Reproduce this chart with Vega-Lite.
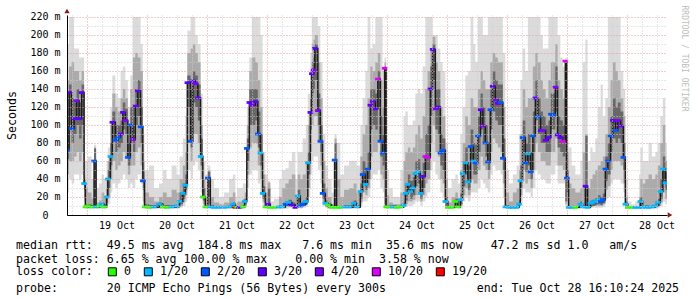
{
  "$schema": "https://vega.github.io/schema/vega-lite/v6.json",
  "width": 600,
  "height": 200,
  "autosize": {"type": "none"},
  "padding": {"left": 67, "top": 15, "right": 30, "bottom": 82},
  "background": "white",
  "config": {"view": {"stroke": null}, "font": "DejaVu Sans Mono"},
  "title": {
    "text": [
      "median rtt:\u00a0\u00a049.5 ms avg\u00a0\u00a0184.8 ms max\u00a0\u00a0\u00a07.6 ms min\u00a0\u00a035.6 ms now\u00a0\u00a0\u00a0\u00a047.2 ms sd 1.0\u00a0\u00a0\u00a0am/s",
      "packet loss: 6.65 % avg 100.00 % max\u00a0\u00a0\u00a0\u00a00.00 % min\u00a0\u00a03.58 % now"
    ],
    "subtitle": "probe:\u00a0\u00a0\u00a0\u00a0\u00a0\u00a0\u00a020 ICMP Echo Pings (56 Bytes) every 300s\u00a0\u00a0\u00a0\u00a0\u00a0\u00a0\u00a0\u00a0\u00a0\u00a0\u00a0\u00a0\u00a0end: Tue Oct 28 16:10:24 2025",
    "orient": "bottom",
    "anchor": "start",
    "frame": "group",
    "font": "DejaVu Sans Mono",
    "fontSize": 11.6,
    "fontWeight": "normal",
    "color": "black",
    "lineHeight": 14.3,
    "subtitleFont": "DejaVu Sans Mono",
    "subtitleFontSize": 11.6,
    "subtitleFontWeight": "normal",
    "subtitleColor": "black",
    "subtitleLineHeight": 14.3,
    "subtitlePadding": 17,
    "offset": -38,
    "dx": -51,
    "align": "left",
    "baseline": "top"
  },
  "datasets": {
    "ping": [
      {"t":"2025-10-18T16:10Z","med":72,"loss":"2/20","lo1":25,"hi1":190,"lo2":45,"hi2":150,"lo3":62,"hi3":100},
      {"t":"2025-10-18T17:00Z","med":136,"loss":"3/20","lo1":40,"hi1":220,"lo2":60,"hi2":165,"lo3":100,"hi3":145},
      {"t":"2025-10-18T18:00Z","med":96,"loss":"2/20","lo1":35,"hi1":220,"lo2":60,"hi2":170,"lo3":80,"hi3":130},
      {"t":"2025-10-18T19:00Z","med":107,"loss":"3/20","lo1":45,"hi1":185,"lo2":65,"hi2":160,"lo3":90,"hi3":125},
      {"t":"2025-10-18T20:00Z","med":127,"loss":"4/20","lo1":45,"hi1":185,"lo2":70,"hi2":160,"lo3":100,"hi3":140},
      {"t":"2025-10-18T21:00Z","med":107,"loss":"3/20","lo1":40,"hi1":175,"lo2":60,"hi2":150,"lo3":85,"hi3":125},
      {"t":"2025-10-18T22:00Z","med":136,"loss":"3/20","lo1":45,"hi1":175,"lo2":70,"hi2":160,"lo3":100,"hi3":145},
      {"t":"2025-10-18T23:00Z","med":35,"loss":"1/20","lo1":15,"hi1":60,"lo2":20,"hi2":45,"lo3":28,"hi3":40},
      {"t":"2025-10-18T23:30Z","med":9,"loss":"0","lo1":7,"hi1":60,"lo2":8,"hi2":30,"lo3":8,"hi3":12},
      {"t":"2025-10-19T00:30Z","med":10,"loss":"0","lo1":7,"hi1":65,"lo2":8,"hi2":25,"lo3":8,"hi3":12},
      {"t":"2025-10-19T02:00Z","med":9,"loss":"0","lo1":7,"hi1":40,"lo2":8,"hi2":18,"lo3":8,"hi3":11},
      {"t":"2025-10-19T03:00Z","med":60,"loss":"2/20","lo1":8,"hi1":78,"lo2":10,"hi2":75,"lo3":10,"hi3":74},
      {"t":"2025-10-19T03:48Z","med":9,"loss":"1/20","lo1":7,"hi1":30,"lo2":8,"hi2":14,"lo3":8,"hi3":10},
      {"t":"2025-10-19T05:00Z","med":10,"loss":"0","lo1":7,"hi1":35,"lo2":8,"hi2":16,"lo3":8,"hi3":12},
      {"t":"2025-10-19T06:00Z","med":12,"loss":"1/20","lo1":7,"hi1":45,"lo2":8,"hi2":25,"lo3":9,"hi3":14},
      {"t":"2025-10-19T07:00Z","med":9,"loss":"0","lo1":7,"hi1":40,"lo2":8,"hi2":20,"lo3":8,"hi3":12},
      {"t":"2025-10-19T08:00Z","med":20,"loss":"1/20","lo1":8,"hi1":60,"lo2":10,"hi2":40,"lo3":14,"hi3":30},
      {"t":"2025-10-19T08:30Z","med":40,"loss":"1/20","lo1":12,"hi1":75,"lo2":20,"hi2":60,"lo3":30,"hi3":50},
      {"t":"2025-10-19T09:30Z","med":65,"loss":"1/20","lo1":25,"hi1":120,"lo2":40,"hi2":100,"lo3":55,"hi3":80},
      {"t":"2025-10-19T10:18Z","med":103,"loss":"3/20","lo1":35,"hi1":155,"lo2":60,"hi2":135,"lo3":85,"hi3":115},
      {"t":"2025-10-19T11:30Z","med":83,"loss":"2/20","lo1":30,"hi1":135,"lo2":50,"hi2":120,"lo3":70,"hi3":100},
      {"t":"2025-10-19T12:30Z","med":86,"loss":"2/20","lo1":35,"hi1":130,"lo2":55,"hi2":115,"lo3":75,"hi3":100},
      {"t":"2025-10-19T13:36Z","med":90,"loss":"3/20","lo1":40,"hi1":160,"lo2":60,"hi2":130,"lo3":80,"hi3":105},
      {"t":"2025-10-19T14:30Z","med":114,"loss":"3/20","lo1":45,"hi1":165,"lo2":70,"hi2":140,"lo3":95,"hi3":125},
      {"t":"2025-10-19T15:30Z","med":105,"loss":"4/20","lo1":40,"hi1":150,"lo2":65,"hi2":130,"lo3":90,"hi3":118},
      {"t":"2025-10-19T16:30Z","med":64,"loss":"2/20","lo1":30,"hi1":120,"lo2":45,"hi2":100,"lo3":55,"hi3":80},
      {"t":"2025-10-19T17:30Z","med":100,"loss":"2/20","lo1":35,"hi1":155,"lo2":55,"hi2":140,"lo3":80,"hi3":120},
      {"t":"2025-10-19T18:30Z","med":84,"loss":"4/20","lo1":30,"hi1":220,"lo2":55,"hi2":175,"lo3":70,"hi3":120},
      {"t":"2025-10-19T19:30Z","med":121,"loss":"3/20","lo1":40,"hi1":220,"lo2":70,"hi2":180,"lo3":100,"hi3":140},
      {"t":"2025-10-19T20:30Z","med":138,"loss":"3/20","lo1":45,"hi1":220,"lo2":75,"hi2":175,"lo3":110,"hi3":150},
      {"t":"2025-10-19T21:36Z","med":98,"loss":"2/20","lo1":35,"hi1":190,"lo2":55,"hi2":160,"lo3":80,"hi3":120},
      {"t":"2025-10-19T22:30Z","med":38,"loss":"2/20","lo1":10,"hi1":90,"lo2":15,"hi2":60,"lo3":28,"hi3":48},
      {"t":"2025-10-19T23:12Z","med":9,"loss":"0","lo1":7,"hi1":50,"lo2":8,"hi2":25,"lo3":8,"hi3":12},
      {"t":"2025-10-20T01:00Z","med":8.5,"loss":"0","lo1":7,"hi1":55,"lo2":8,"hi2":20,"lo3":8,"hi3":11},
      {"t":"2025-10-20T03:00Z","med":9,"loss":"1/20","lo1":7,"hi1":30,"lo2":8,"hi2":15,"lo3":8,"hi3":11},
      {"t":"2025-10-20T05:00Z","med":12,"loss":"1/20","lo1":7,"hi1":35,"lo2":8,"hi2":20,"lo3":9,"hi3":14},
      {"t":"2025-10-20T06:30Z","med":9,"loss":"0","lo1":7,"hi1":50,"lo2":8,"hi2":25,"lo3":8,"hi3":11},
      {"t":"2025-10-20T08:00Z","med":8.5,"loss":"0","lo1":7,"hi1":40,"lo2":8,"hi2":20,"lo3":8,"hi3":11},
      {"t":"2025-10-20T10:00Z","med":9,"loss":"1/20","lo1":7,"hi1":55,"lo2":8,"hi2":28,"lo3":8,"hi3":11},
      {"t":"2025-10-20T12:00Z","med":10,"loss":"1/20","lo1":7,"hi1":45,"lo2":8,"hi2":25,"lo3":8,"hi3":12},
      {"t":"2025-10-20T13:12Z","med":15,"loss":"1/20","lo1":8,"hi1":65,"lo2":10,"hi2":40,"lo3":12,"hi3":25},
      {"t":"2025-10-20T14:30Z","med":24,"loss":"1/20","lo1":10,"hi1":85,"lo2":14,"hi2":55,"lo3":18,"hi3":35},
      {"t":"2025-10-20T15:30Z","med":33,"loss":"1/20","lo1":15,"hi1":110,"lo2":22,"hi2":70,"lo3":28,"hi3":45},
      {"t":"2025-10-20T16:18Z","med":147,"loss":"3/20","lo1":50,"hi1":205,"lo2":80,"hi2":180,"lo3":120,"hi3":155},
      {"t":"2025-10-20T17:36Z","med":82,"loss":"2/20","lo1":40,"hi1":220,"lo2":60,"hi2":185,"lo3":75,"hi3":140},
      {"t":"2025-10-20T18:30Z","med":149,"loss":"3/20","lo1":55,"hi1":220,"lo2":90,"hi2":190,"lo3":125,"hi3":160},
      {"t":"2025-10-20T19:30Z","med":146,"loss":"4/20","lo1":60,"hi1":200,"lo2":90,"hi2":180,"lo3":120,"hi3":155},
      {"t":"2025-10-20T20:30Z","med":130,"loss":"3/20","lo1":50,"hi1":190,"lo2":80,"hi2":170,"lo3":105,"hi3":145},
      {"t":"2025-10-20T21:36Z","med":65,"loss":"1/20","lo1":25,"hi1":135,"lo2":40,"hi2":100,"lo3":55,"hi3":85},
      {"t":"2025-10-20T22:30Z","med":20,"loss":"0","lo1":8,"hi1":60,"lo2":12,"hi2":40,"lo3":16,"hi3":30},
      {"t":"2025-10-20T23:30Z","med":9,"loss":"0","lo1":7,"hi1":45,"lo2":8,"hi2":20,"lo3":8,"hi3":11},
      {"t":"2025-10-21T00:30Z","med":41,"loss":"2/20","lo1":10,"hi1":55,"lo2":12,"hi2":50,"lo3":20,"hi3":48},
      {"t":"2025-10-21T01:30Z","med":9,"loss":"1/20","lo1":7,"hi1":40,"lo2":8,"hi2":20,"lo3":8,"hi3":11},
      {"t":"2025-10-21T03:00Z","med":8.5,"loss":"1/20","lo1":7,"hi1":30,"lo2":8,"hi2":14,"lo3":8,"hi3":10},
      {"t":"2025-10-21T05:00Z","med":8.5,"loss":"1/20","lo1":7,"hi1":20,"lo2":8,"hi2":12,"lo3":8,"hi3":10},
      {"t":"2025-10-21T07:00Z","med":8.5,"loss":"1/20","lo1":7,"hi1":25,"lo2":8,"hi2":14,"lo3":8,"hi3":10},
      {"t":"2025-10-21T09:00Z","med":9,"loss":"1/20","lo1":7,"hi1":40,"lo2":8,"hi2":20,"lo3":8,"hi3":11},
      {"t":"2025-10-21T10:30Z","med":12,"loss":"1/20","lo1":7,"hi1":45,"lo2":8,"hi2":25,"lo3":9,"hi3":14},
      {"t":"2025-10-21T11:30Z","med":8.5,"loss":"19/20","lo1":7,"hi1":20,"lo2":8,"hi2":12,"lo3":8,"hi3":10},
      {"t":"2025-10-21T12:12Z","med":8.5,"loss":"0","lo1":7,"hi1":30,"lo2":8,"hi2":15,"lo3":8,"hi3":10},
      {"t":"2025-10-21T13:00Z","med":8.5,"loss":"3/20","lo1":7,"hi1":30,"lo2":8,"hi2":15,"lo3":8,"hi3":10},
      {"t":"2025-10-21T14:30Z","med":9,"loss":"0","lo1":7,"hi1":35,"lo2":8,"hi2":18,"lo3":8,"hi3":11},
      {"t":"2025-10-21T15:12Z","med":15,"loss":"1/20","lo1":8,"hi1":35,"lo2":10,"hi2":25,"lo3":12,"hi3":18},
      {"t":"2025-10-21T16:06Z","med":74,"loss":"2/20","lo1":30,"hi1":120,"lo2":45,"hi2":100,"lo3":60,"hi3":85},
      {"t":"2025-10-21T17:06Z","med":125,"loss":"3/20","lo1":45,"hi1":175,"lo2":75,"hi2":160,"lo3":100,"hi3":140},
      {"t":"2025-10-21T18:06Z","med":122,"loss":"4/20","lo1":50,"hi1":220,"lo2":80,"hi2":175,"lo3":100,"hi3":140},
      {"t":"2025-10-21T19:30Z","med":126,"loss":"3/20","lo1":50,"hi1":220,"lo2":80,"hi2":170,"lo3":105,"hi3":140},
      {"t":"2025-10-21T20:30Z","med":90,"loss":"2/20","lo1":35,"hi1":220,"lo2":55,"hi2":150,"lo3":75,"hi3":115},
      {"t":"2025-10-21T21:30Z","med":69,"loss":"1/20","lo1":25,"hi1":200,"lo2":40,"hi2":120,"lo3":55,"hi3":90},
      {"t":"2025-10-21T22:24Z","med":24,"loss":"1/20","lo1":10,"hi1":70,"lo2":14,"hi2":45,"lo3":18,"hi3":32},
      {"t":"2025-10-21T23:30Z","med":9,"loss":"0","lo1":7,"hi1":45,"lo2":8,"hi2":25,"lo3":8,"hi3":11},
      {"t":"2025-10-22T00:30Z","med":12,"loss":"3/20","lo1":7,"hi1":38,"lo2":8,"hi2":36,"lo3":9,"hi3":30},
      {"t":"2025-10-22T01:30Z","med":8.5,"loss":"0","lo1":7,"hi1":15,"lo2":8,"hi2":10,"lo3":8,"hi3":10},
      {"t":"2025-10-22T03:00Z","med":8.5,"loss":"0","lo1":7,"hi1":18,"lo2":8,"hi2":10,"lo3":8,"hi3":10},
      {"t":"2025-10-22T05:00Z","med":9,"loss":"1/20","lo1":7,"hi1":40,"lo2":8,"hi2":20,"lo3":8,"hi3":11},
      {"t":"2025-10-22T06:06Z","med":9,"loss":"1/20","lo1":7,"hi1":50,"lo2":8,"hi2":30,"lo3":8,"hi3":11},
      {"t":"2025-10-22T07:30Z","med":12,"loss":"2/20","lo1":7,"hi1":52,"lo2":9,"hi2":35,"lo3":10,"hi3":15},
      {"t":"2025-10-22T08:48Z","med":14,"loss":"1/20","lo1":8,"hi1":60,"lo2":9,"hi2":40,"lo3":10,"hi3":17},
      {"t":"2025-10-22T10:06Z","med":11,"loss":"3/20","lo1":7,"hi1":70,"lo2":9,"hi2":45,"lo3":9,"hi3":14},
      {"t":"2025-10-22T11:30Z","med":8.5,"loss":"3/20","lo1":7,"hi1":40,"lo2":8,"hi2":20,"lo3":8,"hi3":10},
      {"t":"2025-10-22T12:24Z","med":21,"loss":"1/20","lo1":8,"hi1":70,"lo2":10,"hi2":45,"lo3":14,"hi3":28},
      {"t":"2025-10-22T13:30Z","med":10,"loss":"2/20","lo1":7,"hi1":70,"lo2":9,"hi2":40,"lo3":9,"hi3":13},
      {"t":"2025-10-22T14:24Z","med":12,"loss":"2/20","lo1":8,"hi1":85,"lo2":10,"hi2":45,"lo3":10,"hi3":15},
      {"t":"2025-10-22T15:42Z","med":15,"loss":"1/20","lo1":9,"hi1":100,"lo2":12,"hi2":60,"lo3":12,"hi3":20},
      {"t":"2025-10-22T16:30Z","med":58,"loss":"1/20","lo1":20,"hi1":135,"lo2":30,"hi2":100,"lo3":45,"hi3":70},
      {"t":"2025-10-22T17:30Z","med":114,"loss":"3/20","lo1":45,"hi1":180,"lo2":70,"hi2":160,"lo3":95,"hi3":130},
      {"t":"2025-10-22T18:06Z","med":157,"loss":"3/20","lo1":60,"hi1":220,"lo2":100,"hi2":190,"lo3":135,"hi3":170},
      {"t":"2025-10-22T18:48Z","med":161,"loss":"4/20","lo1":65,"hi1":220,"lo2":110,"hi2":195,"lo3":140,"hi3":175},
      {"t":"2025-10-22T19:18Z","med":185,"loss":"3/20","lo1":65,"hi1":220,"lo2":110,"hi2":200,"lo3":150,"hi3":190},
      {"t":"2025-10-22T20:30Z","med":116,"loss":"4/20","lo1":50,"hi1":210,"lo2":80,"hi2":170,"lo3":100,"hi3":135},
      {"t":"2025-10-22T21:30Z","med":82,"loss":"2/20","lo1":35,"hi1":170,"lo2":55,"hi2":130,"lo3":70,"hi3":100},
      {"t":"2025-10-22T22:24Z","med":24,"loss":"2/20","lo1":10,"hi1":90,"lo2":14,"hi2":60,"lo3":18,"hi3":35},
      {"t":"2025-10-22T23:30Z","med":13,"loss":"1/20","lo1":8,"hi1":55,"lo2":9,"hi2":30,"lo3":9,"hi3":16},
      {"t":"2025-10-23T00:30Z","med":11,"loss":"0","lo1":7,"hi1":40,"lo2":8,"hi2":20,"lo3":8,"hi3":13},
      {"t":"2025-10-23T02:00Z","med":8.5,"loss":"0","lo1":7,"hi1":25,"lo2":8,"hi2":12,"lo3":8,"hi3":10},
      {"t":"2025-10-23T03:12Z","med":61,"loss":"2/20","lo1":7,"hi1":90,"lo2":9,"hi2":85,"lo3":10,"hi3":80},
      {"t":"2025-10-23T04:00Z","med":8.5,"loss":"0","lo1":7,"hi1":80,"lo2":8,"hi2":40,"lo3":8,"hi3":10},
      {"t":"2025-10-23T05:30Z","med":8.5,"loss":"0","lo1":7,"hi1":45,"lo2":8,"hi2":20,"lo3":8,"hi3":10},
      {"t":"2025-10-23T07:00Z","med":9,"loss":"1/20","lo1":7,"hi1":55,"lo2":8,"hi2":28,"lo3":8,"hi3":11},
      {"t":"2025-10-23T09:00Z","med":9,"loss":"1/20","lo1":7,"hi1":60,"lo2":8,"hi2":30,"lo3":8,"hi3":11},
      {"t":"2025-10-23T10:48Z","med":13,"loss":"1/20","lo1":8,"hi1":60,"lo2":9,"hi2":35,"lo3":9,"hi3":16},
      {"t":"2025-10-23T12:00Z","med":9,"loss":"1/20","lo1":7,"hi1":55,"lo2":8,"hi2":25,"lo3":8,"hi3":11},
      {"t":"2025-10-23T13:30Z","med":26,"loss":"1/20","lo1":10,"hi1":100,"lo2":14,"hi2":65,"lo3":18,"hi3":35},
      {"t":"2025-10-23T14:24Z","med":45,"loss":"2/20","lo1":15,"hi1":130,"lo2":25,"hi2":90,"lo3":35,"hi3":60},
      {"t":"2025-10-23T15:30Z","med":34,"loss":"1/20","lo1":15,"hi1":160,"lo2":22,"hi2":100,"lo3":28,"hi3":50},
      {"t":"2025-10-23T16:24Z","med":51,"loss":"2/20","lo1":20,"hi1":220,"lo2":30,"hi2":130,"lo3":40,"hi3":70},
      {"t":"2025-10-23T17:30Z","med":122,"loss":"3/20","lo1":40,"hi1":185,"lo2":65,"hi2":165,"lo3":95,"hi3":140},
      {"t":"2025-10-23T18:24Z","med":126,"loss":"4/20","lo1":45,"hi1":190,"lo2":70,"hi2":160,"lo3":100,"hi3":140},
      {"t":"2025-10-23T19:30Z","med":118,"loss":"3/20","lo1":45,"hi1":220,"lo2":70,"hi2":170,"lo3":95,"hi3":135},
      {"t":"2025-10-23T20:30Z","med":151,"loss":"10/20","lo1":50,"hi1":220,"lo2":80,"hi2":180,"lo3":120,"hi3":160},
      {"t":"2025-10-23T21:30Z","med":82,"loss":"2/20","lo1":30,"hi1":220,"lo2":45,"hi2":150,"lo3":65,"hi3":110},
      {"t":"2025-10-23T22:24Z","med":69,"loss":"2/20","lo1":25,"hi1":160,"lo2":40,"hi2":120,"lo3":55,"hi3":90},
      {"t":"2025-10-23T23:12Z","med":163,"loss":"10/20","lo1":9,"hi1":175,"lo2":10,"hi2":170,"lo3":12,"hi3":165},
      {"t":"2025-10-23T23:48Z","med":9,"loss":"0","lo1":7,"hi1":50,"lo2":8,"hi2":22,"lo3":8,"hi3":11},
      {"t":"2025-10-24T01:00Z","med":9,"loss":"0","lo1":7,"hi1":30,"lo2":8,"hi2":14,"lo3":8,"hi3":11},
      {"t":"2025-10-24T02:30Z","med":9,"loss":"1/20","lo1":7,"hi1":20,"lo2":8,"hi2":12,"lo3":8,"hi3":11},
      {"t":"2025-10-24T04:00Z","med":8.5,"loss":"0","lo1":7,"hi1":20,"lo2":8,"hi2":12,"lo3":8,"hi3":10},
      {"t":"2025-10-24T05:30Z","med":9,"loss":"0","lo1":7,"hi1":50,"lo2":8,"hi2":25,"lo3":8,"hi3":11},
      {"t":"2025-10-24T06:48Z","med":11,"loss":"1/20","lo1":8,"hi1":110,"lo2":9,"hi2":60,"lo3":9,"hi3":14},
      {"t":"2025-10-24T07:30Z","med":24,"loss":"1/20","lo1":9,"hi1":115,"lo2":12,"hi2":70,"lo3":16,"hi3":35},
      {"t":"2025-10-24T08:30Z","med":34,"loss":"1/20","lo1":10,"hi1":100,"lo2":15,"hi2":75,"lo3":25,"hi3":45},
      {"t":"2025-10-24T09:30Z","med":26,"loss":"1/20","lo1":10,"hi1":100,"lo2":15,"hi2":70,"lo3":18,"hi3":38},
      {"t":"2025-10-24T10:30Z","med":30,"loss":"1/20","lo1":12,"hi1":105,"lo2":17,"hi2":75,"lo3":22,"hi3":42},
      {"t":"2025-10-24T11:30Z","med":46,"loss":"1/20","lo1":15,"hi1":135,"lo2":22,"hi2":90,"lo3":32,"hi3":60},
      {"t":"2025-10-24T12:30Z","med":48,"loss":"1/20","lo1":15,"hi1":140,"lo2":25,"hi2":100,"lo3":35,"hi3":62},
      {"t":"2025-10-24T13:30Z","med":24,"loss":"1/20","lo1":10,"hi1":135,"lo2":15,"hi2":85,"lo3":18,"hi3":38},
      {"t":"2025-10-24T14:24Z","med":43,"loss":"3/20","lo1":15,"hi1":165,"lo2":22,"hi2":110,"lo3":30,"hi3":58},
      {"t":"2025-10-24T15:30Z","med":65,"loss":"10/20","lo1":20,"hi1":220,"lo2":35,"hi2":140,"lo3":50,"hi3":90},
      {"t":"2025-10-24T16:24Z","med":64,"loss":"10/20","lo1":25,"hi1":220,"lo2":40,"hi2":160,"lo3":50,"hi3":100},
      {"t":"2025-10-24T17:30Z","med":140,"loss":"3/20","lo1":50,"hi1":220,"lo2":80,"hi2":185,"lo3":110,"hi3":165},
      {"t":"2025-10-24T18:24Z","med":184,"loss":"3/20","lo1":60,"hi1":200,"lo2":100,"hi2":198,"lo3":150,"hi3":190},
      {"t":"2025-10-24T19:30Z","med":118,"loss":"4/20","lo1":45,"hi1":200,"lo2":70,"hi2":170,"lo3":95,"hi3":140},
      {"t":"2025-10-24T20:30Z","med":120,"loss":"3/20","lo1":40,"hi1":185,"lo2":65,"hi2":160,"lo3":90,"hi3":140},
      {"t":"2025-10-24T21:30Z","med":69,"loss":"2/20","lo1":25,"hi1":170,"lo2":40,"hi2":120,"lo3":55,"hi3":90},
      {"t":"2025-10-24T22:24Z","med":72,"loss":"2/20","lo1":20,"hi1":160,"lo2":35,"hi2":110,"lo3":50,"hi3":85},
      {"t":"2025-10-24T23:30Z","med":15,"loss":"1/20","lo1":7,"hi1":80,"lo2":9,"hi2":40,"lo3":9,"hi3":20},
      {"t":"2025-10-25T00:30Z","med":8.5,"loss":"0","lo1":7,"hi1":30,"lo2":8,"hi2":14,"lo3":8,"hi3":10},
      {"t":"2025-10-25T02:00Z","med":8.5,"loss":"0","lo1":7,"hi1":40,"lo2":8,"hi2":20,"lo3":8,"hi3":10},
      {"t":"2025-10-25T03:30Z","med":15,"loss":"0","lo1":8,"hi1":45,"lo2":9,"hi2":25,"lo3":10,"hi3":18},
      {"t":"2025-10-25T04:30Z","med":9,"loss":"0","lo1":7,"hi1":35,"lo2":8,"hi2":15,"lo3":8,"hi3":11},
      {"t":"2025-10-25T05:30Z","med":17,"loss":"1/20","lo1":8,"hi1":90,"lo2":10,"hi2":50,"lo3":12,"hi3":24},
      {"t":"2025-10-25T06:24Z","med":46,"loss":"1/20","lo1":15,"hi1":120,"lo2":22,"hi2":80,"lo3":32,"hi3":60},
      {"t":"2025-10-25T07:30Z","med":58,"loss":"1/20","lo1":20,"hi1":155,"lo2":30,"hi2":110,"lo3":45,"hi3":75},
      {"t":"2025-10-25T08:30Z","med":37,"loss":"1/20","lo1":15,"hi1":160,"lo2":22,"hi2":100,"lo3":28,"hi3":55},
      {"t":"2025-10-25T09:36Z","med":76,"loss":"2/20","lo1":25,"hi1":220,"lo2":40,"hi2":130,"lo3":60,"hi3":95},
      {"t":"2025-10-25T10:42Z","med":60,"loss":"1/20","lo1":25,"hi1":190,"lo2":35,"hi2":120,"lo3":45,"hi3":80},
      {"t":"2025-10-25T11:30Z","med":58,"loss":"2/20","lo1":25,"hi1":170,"lo2":35,"hi2":120,"lo3":45,"hi3":78},
      {"t":"2025-10-25T12:30Z","med":88,"loss":"2/20","lo1":30,"hi1":220,"lo2":50,"hi2":140,"lo3":70,"hi3":110},
      {"t":"2025-10-25T13:36Z","med":117,"loss":"3/20","lo1":40,"hi1":220,"lo2":65,"hi2":160,"lo3":95,"hi3":135},
      {"t":"2025-10-25T14:30Z","med":99,"loss":"4/20","lo1":35,"hi1":200,"lo2":55,"hi2":150,"lo3":80,"hi3":120},
      {"t":"2025-10-25T15:30Z","med":80,"loss":"2/20","lo1":30,"hi1":200,"lo2":50,"hi2":140,"lo3":65,"hi3":100},
      {"t":"2025-10-25T16:30Z","med":59,"loss":"2/20","lo1":25,"hi1":220,"lo2":40,"hi2":140,"lo3":50,"hi3":80},
      {"t":"2025-10-25T17:30Z","med":117,"loss":"2/20","lo1":45,"hi1":220,"lo2":70,"hi2":170,"lo3":95,"hi3":140},
      {"t":"2025-10-25T18:24Z","med":143,"loss":"3/20","lo1":55,"hi1":220,"lo2":85,"hi2":180,"lo3":115,"hi3":160},
      {"t":"2025-10-25T19:30Z","med":128,"loss":"4/20","lo1":50,"hi1":220,"lo2":80,"hi2":175,"lo3":105,"hi3":150},
      {"t":"2025-10-25T20:30Z","med":124,"loss":"3/20","lo1":50,"hi1":220,"lo2":75,"hi2":170,"lo3":100,"hi3":145},
      {"t":"2025-10-25T21:36Z","med":125,"loss":"2/20","lo1":45,"hi1":220,"lo2":70,"hi2":170,"lo3":100,"hi3":145},
      {"t":"2025-10-25T22:30Z","med":63,"loss":"2/20","lo1":20,"hi1":180,"lo2":35,"hi2":120,"lo3":50,"hi3":85},
      {"t":"2025-10-25T23:30Z","med":9,"loss":"1/20","lo1":7,"hi1":50,"lo2":8,"hi2":25,"lo3":8,"hi3":11},
      {"t":"2025-10-26T01:00Z","med":8.5,"loss":"1/20","lo1":7,"hi1":35,"lo2":8,"hi2":15,"lo3":8,"hi3":10},
      {"t":"2025-10-26T02:30Z","med":8.5,"loss":"1/20","lo1":7,"hi1":45,"lo2":8,"hi2":25,"lo3":8,"hi3":10},
      {"t":"2025-10-26T04:00Z","med":8.5,"loss":"1/20","lo1":7,"hi1":55,"lo2":8,"hi2":30,"lo3":8,"hi3":10},
      {"t":"2025-10-26T05:00Z","med":12,"loss":"1/20","lo1":8,"hi1":90,"lo2":10,"hi2":50,"lo3":10,"hi3":16},
      {"t":"2025-10-26T05:30Z","med":38,"loss":"1/20","lo1":15,"hi1":150,"lo2":22,"hi2":90,"lo3":30,"hi3":55},
      {"t":"2025-10-26T06:24Z","med":86,"loss":"2/20","lo1":30,"hi1":185,"lo2":50,"hi2":140,"lo3":70,"hi3":105},
      {"t":"2025-10-26T07:30Z","med":58,"loss":"2/20","lo1":25,"hi1":160,"lo2":35,"hi2":120,"lo3":48,"hi3":80},
      {"t":"2025-10-26T08:30Z","med":68,"loss":"1/20","lo1":25,"hi1":220,"lo2":40,"hi2":130,"lo3":55,"hi3":90},
      {"t":"2025-10-26T09:36Z","med":48,"loss":"2/20","lo1":20,"hi1":220,"lo2":30,"hi2":130,"lo3":40,"hi3":70},
      {"t":"2025-10-26T10:30Z","med":88,"loss":"2/20","lo1":30,"hi1":220,"lo2":50,"hi2":165,"lo3":70,"hi3":115},
      {"t":"2025-10-26T11:30Z","med":130,"loss":"3/20","lo1":50,"hi1":220,"lo2":80,"hi2":180,"lo3":105,"hi3":150},
      {"t":"2025-10-26T12:30Z","med":109,"loss":"2/20","lo1":45,"hi1":220,"lo2":70,"hi2":170,"lo3":90,"hi3":130},
      {"t":"2025-10-26T13:36Z","med":94,"loss":"3/20","lo1":40,"hi1":200,"lo2":60,"hi2":150,"lo3":80,"hi3":115},
      {"t":"2025-10-26T14:30Z","med":94,"loss":"4/20","lo1":40,"hi1":185,"lo2":60,"hi2":140,"lo3":80,"hi3":110},
      {"t":"2025-10-26T15:36Z","med":83,"loss":"3/20","lo1":35,"hi1":185,"lo2":55,"hi2":130,"lo3":70,"hi3":100},
      {"t":"2025-10-26T16:42Z","med":86,"loss":"3/20","lo1":35,"hi1":220,"lo2":55,"hi2":150,"lo3":70,"hi3":105},
      {"t":"2025-10-26T17:42Z","med":112,"loss":"2/20","lo1":45,"hi1":220,"lo2":70,"hi2":170,"lo3":95,"hi3":135},
      {"t":"2025-10-26T18:42Z","med":111,"loss":"2/20","lo1":45,"hi1":220,"lo2":70,"hi2":170,"lo3":95,"hi3":135},
      {"t":"2025-10-26T19:30Z","med":142,"loss":"4/20","lo1":55,"hi1":220,"lo2":85,"hi2":190,"lo3":115,"hi3":165},
      {"t":"2025-10-26T20:24Z","med":89,"loss":"3/20","lo1":35,"hi1":200,"lo2":55,"hi2":150,"lo3":75,"hi3":110},
      {"t":"2025-10-26T21:30Z","med":86,"loss":"3/20","lo1":35,"hi1":175,"lo2":55,"hi2":140,"lo3":70,"hi3":105},
      {"t":"2025-10-26T22:30Z","med":82,"loss":"10/20","lo1":35,"hi1":165,"lo2":50,"hi2":130,"lo3":65,"hi3":100},
      {"t":"2025-10-26T23:30Z","med":171,"loss":"10/20","lo1":10,"hi1":175,"lo2":12,"hi2":172,"lo3":15,"hi3":171},
      {"t":"2025-10-27T00:06Z","med":41,"loss":"2/20","lo1":10,"hi1":90,"lo2":15,"hi2":70,"lo3":25,"hi3":50},
      {"t":"2025-10-27T00:48Z","med":8.5,"loss":"1/20","lo1":7,"hi1":75,"lo2":8,"hi2":35,"lo3":8,"hi3":10},
      {"t":"2025-10-27T02:00Z","med":8.5,"loss":"1/20","lo1":7,"hi1":55,"lo2":8,"hi2":30,"lo3":8,"hi3":10},
      {"t":"2025-10-27T03:30Z","med":8.5,"loss":"0","lo1":7,"hi1":45,"lo2":8,"hi2":25,"lo3":8,"hi3":10},
      {"t":"2025-10-27T05:30Z","med":12,"loss":"1/20","lo1":8,"hi1":60,"lo2":9,"hi2":30,"lo3":9,"hi3":15},
      {"t":"2025-10-27T06:24Z","med":9,"loss":"1/20","lo1":7,"hi1":170,"lo2":8,"hi2":70,"lo3":8,"hi3":11},
      {"t":"2025-10-27T07:30Z","med":32,"loss":"3/20","lo1":8,"hi1":195,"lo2":9,"hi2":90,"lo3":10,"hi3":88},
      {"t":"2025-10-27T08:24Z","med":8.5,"loss":"1/20","lo1":7,"hi1":60,"lo2":8,"hi2":30,"lo3":8,"hi3":10},
      {"t":"2025-10-27T09:30Z","med":13,"loss":"1/20","lo1":8,"hi1":75,"lo2":9,"hi2":40,"lo3":9,"hi3":16},
      {"t":"2025-10-27T10:24Z","med":14,"loss":"1/20","lo1":8,"hi1":70,"lo2":10,"hi2":45,"lo3":10,"hi3":17},
      {"t":"2025-10-27T11:30Z","med":15,"loss":"1/20","lo1":8,"hi1":85,"lo2":10,"hi2":50,"lo3":11,"hi3":19},
      {"t":"2025-10-27T12:30Z","med":17,"loss":"1/20","lo1":8,"hi1":120,"lo2":10,"hi2":55,"lo3":12,"hi3":22},
      {"t":"2025-10-27T13:36Z","med":15,"loss":"2/20","lo1":8,"hi1":145,"lo2":10,"hi2":60,"lo3":11,"hi3":20},
      {"t":"2025-10-27T14:30Z","med":17,"loss":"2/20","lo1":9,"hi1":110,"lo2":12,"hi2":65,"lo3":13,"hi3":24},
      {"t":"2025-10-27T15:30Z","med":51,"loss":"2/20","lo1":18,"hi1":130,"lo2":28,"hi2":90,"lo3":38,"hi3":65},
      {"t":"2025-10-27T16:30Z","med":60,"loss":"2/20","lo1":20,"hi1":220,"lo2":32,"hi2":120,"lo3":45,"hi3":80},
      {"t":"2025-10-27T17:36Z","med":88,"loss":"2/20","lo1":35,"hi1":220,"lo2":50,"hi2":150,"lo3":70,"hi3":110},
      {"t":"2025-10-27T18:30Z","med":105,"loss":"3/20","lo1":40,"hi1":220,"lo2":60,"hi2":170,"lo3":85,"hi3":130},
      {"t":"2025-10-27T19:36Z","med":94,"loss":"2/20","lo1":40,"hi1":220,"lo2":60,"hi2":160,"lo3":80,"hi3":120},
      {"t":"2025-10-27T20:30Z","med":105,"loss":"4/20","lo1":40,"hi1":220,"lo2":60,"hi2":150,"lo3":85,"hi3":125},
      {"t":"2025-10-27T21:36Z","med":99,"loss":"3/20","lo1":35,"hi1":160,"lo2":55,"hi2":130,"lo3":80,"hi3":115},
      {"t":"2025-10-27T22:42Z","med":64,"loss":"2/20","lo1":25,"hi1":140,"lo2":35,"hi2":110,"lo3":50,"hi3":80},
      {"t":"2025-10-27T23:30Z","med":12,"loss":"1/20","lo1":7,"hi1":40,"lo2":8,"hi2":20,"lo3":8,"hi3":15},
      {"t":"2025-10-28T00:30Z","med":8.5,"loss":"0","lo1":7,"hi1":15,"lo2":8,"hi2":10,"lo3":8,"hi3":10},
      {"t":"2025-10-28T02:00Z","med":8.5,"loss":"0","lo1":7,"hi1":12,"lo2":8,"hi2":10,"lo3":8,"hi3":10},
      {"t":"2025-10-28T03:30Z","med":8.5,"loss":"1/20","lo1":7,"hi1":15,"lo2":8,"hi2":10,"lo3":8,"hi3":10},
      {"t":"2025-10-28T05:00Z","med":8.5,"loss":"1/20","lo1":7,"hi1":45,"lo2":8,"hi2":20,"lo3":8,"hi3":10},
      {"t":"2025-10-28T05:30Z","med":15,"loss":"1/20","lo1":8,"hi1":75,"lo2":9,"hi2":40,"lo3":10,"hi3":20},
      {"t":"2025-10-28T06:24Z","med":8.5,"loss":"1/20","lo1":7,"hi1":60,"lo2":8,"hi2":35,"lo3":8,"hi3":10},
      {"t":"2025-10-28T07:30Z","med":9,"loss":"1/20","lo1":7,"hi1":60,"lo2":8,"hi2":40,"lo3":8,"hi3":11},
      {"t":"2025-10-28T08:48Z","med":8.5,"loss":"1/20","lo1":7,"hi1":80,"lo2":8,"hi2":45,"lo3":8,"hi3":10},
      {"t":"2025-10-28T10:06Z","med":9,"loss":"1/20","lo1":7,"hi1":65,"lo2":8,"hi2":40,"lo3":8,"hi3":11},
      {"t":"2025-10-28T11:30Z","med":10,"loss":"1/20","lo1":7,"hi1":70,"lo2":9,"hi2":45,"lo3":9,"hi3":13},
      {"t":"2025-10-28T12:30Z","med":14,"loss":"1/20","lo1":8,"hi1":80,"lo2":10,"hi2":55,"lo3":10,"hi3":18},
      {"t":"2025-10-28T13:30Z","med":26,"loss":"1/20","lo1":10,"hi1":110,"lo2":14,"hi2":80,"lo3":18,"hi3":40},
      {"t":"2025-10-28T14:30Z","med":51,"loss":"1/20","lo1":15,"hi1":130,"lo2":25,"hi2":100,"lo3":38,"hi3":65},
      {"t":"2025-10-28T15:30Z","med":35.6,"loss":"1/20","lo1":12,"hi1":80,"lo2":18,"hi2":60,"lo3":28,"hi3":48},
      {"t":"2025-10-28T16:10Z","med":35.6,"loss":"1/20","lo1":12,"hi1":80,"lo2":18,"hi2":60,"lo3":28,"hi3":48}
    ],
    "arrowx": [{"t": "2025-10-28T16:10Z", "v": 0}],
    "arrowy": [{"t": "2025-10-18T16:10Z", "v": 222.22}]
  },
  "encoding": {
    "x": {
      "field": "t",
      "type": "temporal",
      "title": null,
      "scale": {
        "type": "utc",
        "nice": false,
        "domain": [
          {"year": 2025, "month": 10, "date": 18, "hours": 16, "minutes": 10, "utc": true},
          {"year": 2025, "month": 10, "date": 28, "hours": 16, "minutes": 10, "utc": true}
        ]
      },
      "axis": {
        "tickCount": 40,
        "grid": true,
        "gridColor": {"condition": {"test": "utchours(datum.value) === 0", "value": "#e39a9a"}, "value": "#cfcfcf"},
        "gridDash": [1, 2],
        "gridWidth": 1,
        "labelExpr": "utchours(datum.value) === 12 ? utcFormat(datum.value, '%d %b') : ''",
        "labelFont": "DejaVu Sans Mono",
        "labelFontSize": 10,
        "labelColor": "black",
        "labelOverlap": false,
        "labelFlush": false,
        "labelBound": false,
        "ticks": false,
        "labelPadding": 5,
        "domainColor": "black",
        "domainWidth": 1,
        "zindex": 1
      }
    }
  },
  "layer": [
    {
      "data": {"name": "ping"},
      "mark": {"type": "area", "interpolate": "step-after", "color": "#dbdbdb", "clip": true},
      "encoding": {
        "y": {
          "field": "lo1",
          "type": "quantitative",
          "scale": {"domain": [0, 222.22], "nice": false, "zero": true},
          "axis": {
            "orient": "left",
            "values": [0, 10, 20, 30, 40, 50, 60, 70, 80, 90, 100, 110, 120, 130, 140, 150, 160, 170, 180, 190, 200, 210, 220],
            "grid": true,
            "gridColor": {"condition": {"test": "datum.value % 20 === 0", "value": "#e39a9a"}, "value": "#cfcfcf"},
            "gridDash": [1, 2],
            "labelExpr": "datum.value % 20 !== 0 ? '' : (datum.value === 0 ? '0' : datum.value + '\u00a0m')",
            "labelFont": "DejaVu Sans Mono",
            "labelFontSize": 10,
            "labelColor": "black",
            "labelOverlap": false,
            "labelFlush": false,
            "ticks": false,
            "labelPadding": {"condition": {"test": "datum.value === 0", "value": 19}, "value": 7},
            "domainColor": "black",
            "title": "Seconds",
            "titleFont": "DejaVu Sans Mono",
            "titleFontSize": 11.6,
            "titleFontWeight": "normal",
            "titleColor": "black",
            "titlePadding": 12,
            "zindex": 1
          }
        },
        "y2": {"field": "hi1"}
      }
    },
    {
      "data": {"name": "ping"},
      "mark": {"type": "area", "interpolate": "step-after", "color": "#ababab", "clip": true},
      "encoding": {
        "y": {"field": "lo2", "type": "quantitative", "scale": {"domain": [0, 222.22], "nice": false, "zero": true}, "axis": null},
        "y2": {"field": "hi2"}
      }
    },
    {
      "data": {"name": "ping"},
      "mark": {"type": "area", "interpolate": "step-after", "color": "#686868", "clip": true},
      "encoding": {
        "y": {"field": "lo3", "type": "quantitative", "scale": {"domain": [0, 222.22], "nice": false, "zero": true}, "axis": null},
        "y2": {"field": "hi3"}
      }
    },
    {
      "data": {"name": "ping"},
      "mark": {"type": "line", "interpolate": "step-after", "color": "#1a1a1a", "strokeWidth": 1.5, "clip": true},
      "encoding": {
        "y": {"field": "med", "type": "quantitative", "scale": {"domain": [0, 222.22], "nice": false, "zero": true}, "axis": null}
      }
    },
    {
      "data": {"name": "ping"},
      "mark": {"type": "point", "shape": "M-1,-0.5H1V0.5H-1Z", "filled": true, "size": 30, "opacity": 1, "clip": true},
      "encoding": {
        "y": {"field": "med", "type": "quantitative", "scale": {"domain": [0, 222.22], "nice": false, "zero": true}, "axis": null},
        "color": {
          "field": "loss",
          "type": "nominal",
          "scale": {
            "domain": ["0", "1/20", "2/20", "3/20", "4/20", "10/20", "19/20"],
            "range": ["#26ff00", "#00b8ff", "#0059ff", "#5e00ff", "#7e00ff", "#dd00ff", "#ff0000"]
          },
          "legend": {
            "orient": "none",
            "legendX": -51,
            "legendY": 251,
            "direction": "horizontal",
            "columns": 7,
            "gridAlign": "none",
            "title": "loss color:",
            "titleOrient": "left",
            "titleAnchor": "start",
            "titleBaseline": "top",
            "titleFont": "DejaVu Sans Mono",
            "titleFontSize": 11.6,
            "titleFontWeight": "normal",
            "titleColor": "black",
            "titlePadding": 13.5,
            "titleLimit": 0,
            "padding": 0,
            "symbolType": "square",
            "symbolSize": 64,
            "symbolStrokeColor": "black",
            "symbolStrokeWidth": 1,
            "symbolOpacity": 1,
            "labelFont": "DejaVu Sans Mono",
            "labelFontSize": 11.6,
            "labelColor": "black",
            "labelOffset": 6,
            "labelLimit": 0,
            "columnPadding": 10,
            "rowPadding": 0
          }
        }
      }
    },
    {
      "data": {"name": "arrowx"},
      "mark": {"type": "point", "shape": "triangle-right", "filled": true, "color": "#8b1c1c", "size": 28, "opacity": 1, "xOffset": 3},
      "encoding": {
        "y": {
          "field": "v",
          "type": "quantitative",
          "scale": {"domain": [0, 222.22], "nice": false, "zero": true},
          "axis": {
            "orient": "right",
            "labels": false,
            "ticks": false,
            "domain": false,
            "grid": false,
            "title": "RRDTOOL / TOBI OETIKER",
            "titleFont": "DejaVu Sans Mono",
            "titleFontSize": 8,
            "titleFontWeight": "normal",
            "titleColor": "#bdbdbd",
            "titleAngle": 90,
            "titleAnchor": "end",
            "titleAlign": "left",
            "titleBaseline": "middle",
            "titlePadding": 16,
            "titleY": -10
          }
        }
      }
    },
    {
      "data": {"name": "arrowy"},
      "mark": {"type": "point", "shape": "triangle-up", "filled": true, "color": "#8b1c1c", "size": 28, "opacity": 1, "yOffset": -4},
      "encoding": {
        "y": {"field": "v", "type": "quantitative", "scale": {"domain": [0, 222.22], "nice": false, "zero": true}, "axis": null}
      }
    }
  ],
  "resolve": {"axis": {"y": "independent"}}
}
